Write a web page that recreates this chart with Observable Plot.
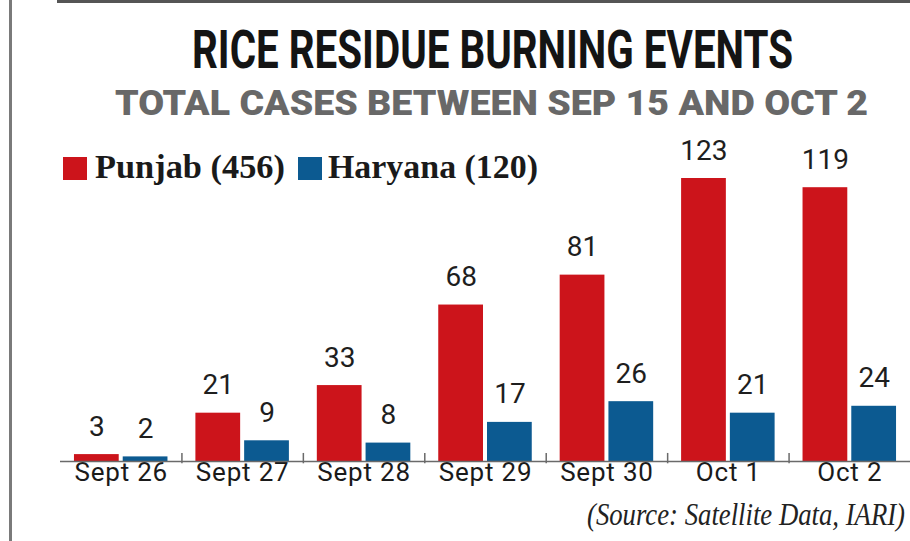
<!DOCTYPE html>
<html>
<head>
<meta charset="utf-8">
<script src="https://cdn.jsdelivr.net/npm/d3@7"></script>
<script src="https://cdn.jsdelivr.net/npm/@observablehq/plot@0.6"></script>
<style>
  html, body { margin: 0; padding: 0; background: #fff; }
  #wrap { position: relative; width: 910px; height: 541px; overflow: hidden; background: #fff; }
  .abs { position: absolute; white-space: nowrap; line-height: 1; transform-origin: 0 0; }
  #title { font-family: Roboto, sans-serif; font-weight: 700; font-size: 54px; color: #141414; }
  #subtitle { font-family: Roboto, sans-serif; font-weight: 900; font-size: 35px; color: #686868; }
  .leg { font-family: "Liberation Serif", serif; font-weight: 700; font-size: 33px; color: #1a1a1a; }
  .sw { position: absolute; width: 24px; height: 23px; }
  #source { font-family: "Liberation Serif", serif; font-style: italic; font-size: 32px; color: #222; }
  #leftline { position: absolute; left: 9px; top: 0; width: 3px; height: 541px; background: #7a7a7a; }
  #topline { position: absolute; left: 57px; top: 0; width: 853px; height: 3px; background: #555; }
  #chart { position: absolute; left: 0; top: 120px; }
</style>
</head>
<body>
<div id="wrap">
  <div id="leftline"></div>
  <div id="topline"></div>
  <div id="title" class="abs" style="left:192px; top:22.6px;">RICE RESIDUE BURNING EVENTS</div>
  <div id="subtitle" class="abs" style="left:115px; top:85.6px;">TOTAL CASES BETWEEN SEP 15 AND OCT 2</div>
  <div class="sw" id="sw1" style="left:63px; top:157px;"></div>
  <div id="leg1" class="abs leg" style="left:95px; top:151.3px;"></div>
  <div class="sw" id="sw2" style="left:298px; top:157px;"></div>
  <div id="leg2" class="abs leg" style="left:328px; top:151.3px;"></div>
  <div id="chart"></div>
  <div id="source" class="abs" style="left:587px; top:498px;">(Source: Satellite Data, IARI)</div>
</div>
<script>
// ---- data ----
const dates = ["Sept 26", "Sept 27", "Sept 28", "Sept 29", "Sept 30", "Oct 1", "Oct 2"];
const punjab = [3, 21, 33, 68, 81, 123, 119];
const haryana = [2, 9, 8, 17, 26, 21, 24];
const seriesNames = ["Punjab", "Haryana"];
const seriesTotals = [456, 120];
const colors = ["#cc141b", "#0c5a91"];

const punjabData = dates.map((d, i) => ({date: d, value: punjab[i]}));
const haryanaData = dates.map((d, i) => ({date: d, value: haryana[i]}));

// legend
document.getElementById("sw1").style.background = colors[0];
document.getElementById("sw2").style.background = colors[1];
document.getElementById("leg1").textContent = `${seriesNames[0]} (${seriesTotals[0]})`;
document.getElementById("leg2").textContent = `${seriesNames[1]} (${seriesTotals[1]})`;

// ---- chart geometry ----
const W = 910, H = 380, mL = 60, mR = 0, mT = 58, mB = 39;
const pIn = 0.23, pOut = 0.115;
const step = (W - mL - mR) / (dates.length - pIn + 2 * pOut);
const bw = step * (1 - pIn);
const inset = bw / 2 + 2;
const off = bw / 4 + 1;

const chart = Plot.plot({
  width: W, height: H,
  marginLeft: mL, marginRight: mR, marginTop: mT, marginBottom: mB,
  style: {fontFamily: "Roboto, sans-serif", fontSize: "26px", fontWeight: 400, color: "#1a1a1a", background: "transparent", overflow: "visible"},
  x: {domain: dates, paddingInner: pIn, paddingOuter: pOut, round: false, tickSize: 0, tickPadding: 1, label: null},
  y: {domain: [0, 123], axis: null},
  marks: [
    Plot.barY(punjabData, {x: "date", y: "value", fill: colors[0], insetRight: inset}),
    Plot.barY(haryanaData, {x: "date", y: "value", fill: colors[1], insetLeft: inset}),
    Plot.ruleY([0], {stroke: "#6a6a6a", strokeWidth: 1.5}),
    Plot.ruleX(dates.slice(1), {x: d => d, dx: -step / 2, y1: -1, y2: 3.5, stroke: "#6a6a6a", strokeWidth: 1.5}),
    Plot.text(punjabData, {x: "date", y: "value", text: d => String(d.value), dx: -off, dy: -19, lineAnchor: "bottom", fontSize: 28, fontWeight: 400, fill: "#1e1e1e"}),
    Plot.text(haryanaData, {x: "date", y: "value", text: d => String(d.value), dx: off, dy: -19, lineAnchor: "bottom", fontSize: 28, fontWeight: 400, fill: "#1e1e1e"})
  ]
});
document.getElementById("chart").appendChild(chart);
chart.querySelectorAll('g[aria-label^="x-axis"] text').forEach(t => {
  t.setAttribute("letter-spacing", "0.8");
});

// ---- fit header texts to the reference widths ----
function fit(id, target) {
  const el = document.getElementById(id);
  const w = el.getBoundingClientRect().width;
  if (w > 0) el.style.transform = `scaleX(${target / w})`;
}
fit("title", 601);
fit("subtitle", 753);
fit("leg1", 190);
fit("leg2", 210);
fit("source", 318);
</script>
</body>
</html>
